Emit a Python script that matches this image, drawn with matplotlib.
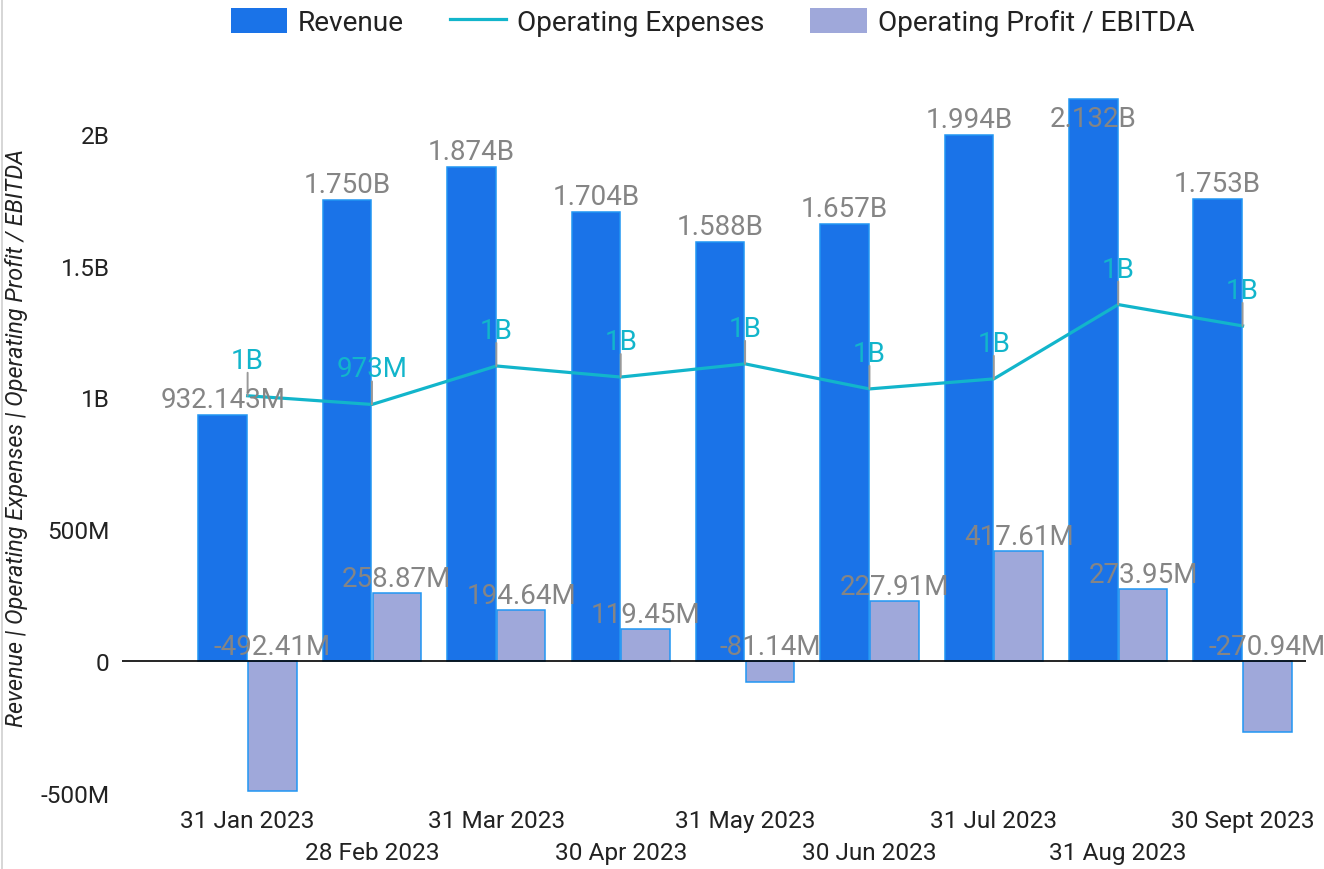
import matplotlib
matplotlib.use("Agg")
import matplotlib.pyplot as plt
from matplotlib.patches import Patch
from matplotlib.lines import Line2D
import numpy as np

plt.rcParams['font.family'] = ['Roboto', 'DejaVu Sans']

# values in millions
months = ['31 Jan 2023', '28 Feb 2023', '31 Mar 2023', '30 Apr 2023', '31 May 2023',
          '30 Jun 2023', '31 Jul 2023', '31 Aug 2023', '30 Sept 2023']
revenue = [932.143, 1750, 1874, 1704, 1588, 1657, 1994, 2132, 1753]
opex = [1006, 973, 1119, 1077, 1127, 1032, 1070, 1352, 1271]
profit = [-492.41, 258.87, 194.64, 119.45, -81.14, 227.91, 417.61, 273.95, -270.94]

ytick_values = [-500, 0, 500, 1000, 1500, 2000]
ytick_labels = ['-500M', '0', '500M', '1B', '1.5B', '2B']

REV_COLOR = '#1a73e8'
PROFIT_COLOR = '#9fa8da'
EDGE_COLOR = '#2196f3'
LINE_COLOR = '#12b5cb'
LABEL_GRAY = '#858585'


def fmt_revenue(v):
    if v >= 1000:
        return f'{v / 1000:.3f}B'
    return f'{v:.3f}M'


def fmt_opex(v):
    if v >= 1000:
        return f'{int(v // 1000)}B'
    return f'{v:.0f}M'


fig = plt.figure(figsize=(13.24, 8.70), dpi=100)
ax = fig.add_axes([122 / 1324, 1 - 800 / 870, (1306 - 122) / 1324, 705 / 870])

x = np.arange(len(months))
w = 0.39
off = 0.2

ax.bar(x - off, revenue, width=w, color=REV_COLOR, edgecolor=EDGE_COLOR, linewidth=1.1, zorder=2)
ax.bar(x + off, profit, width=w, color=PROFIT_COLOR, edgecolor=EDGE_COLOR, linewidth=1.1, zorder=2)
ax.plot(x, opex, color=LINE_COLOR, linewidth=2.3, zorder=3)
ax.axhline(0, color='black', linewidth=1.2, zorder=4)

# data labels
label_cap = 2000  # labels of the tallest bars stay inside the plot
for i in range(len(months)):
    ax.annotate(fmt_revenue(revenue[i]), xy=(x[i] - off, min(revenue[i], label_cap)),
                xytext=(0, 8), textcoords='offset pixels', ha='center', va='baseline',
                fontsize=20, color=LABEL_GRAY, zorder=6)
    ax.annotate(f'{profit[i]:.2f}M', xy=(x[i] + off, max(profit[i], 0)),
                xytext=(0, 7), textcoords='offset pixels', ha='center', va='baseline',
                fontsize=20, color=LABEL_GRAY, zorder=6)
    ax.annotate('', xy=(x[i], opex[i]), xytext=(0, 23), textcoords='offset pixels',
                arrowprops=dict(arrowstyle='-', color='#999999', lw=1.4,
                                shrinkA=0, shrinkB=0), zorder=5)
    ax.annotate(fmt_opex(opex[i]), xy=(x[i], opex[i]),
                xytext=(0, 28), textcoords='offset pixels', ha='center', va='baseline',
                fontsize=20, color=LINE_COLOR, zorder=6)

ax.set_xlim(-1.01, 8.51)
ax.set_ylim(-524, 2151)
ax.set_yticks(ytick_values, ytick_labels)
ax.set_xticks(x, months)
ax.tick_params(axis='both', length=0, labelsize=17.6, colors='#222222')
ax.tick_params(axis='y', pad=9)
# alternate the date labels on two rows
for i, tick in enumerate(ax.xaxis.get_major_ticks()):
    tick.set_pad(7 if i % 2 == 0 else 30)
for s in ax.spines.values():
    s.set_visible(False)

fig.text(17 / 1324, 1 - 438 / 870, 'Revenue | Operating Expenses | Operating Profit / EBITDA',
         rotation=90, ha='center', va='center', fontsize=16.8, style='italic', color='#222222')

handles = [Patch(facecolor=REV_COLOR, edgecolor='none'),
           Line2D([0], [0], color=LINE_COLOR, linewidth=2.3),
           Patch(facecolor=PROFIT_COLOR, edgecolor='none')]
fig.legend(handles, ['Revenue', 'Operating Expenses', 'Operating Profit / EBITDA'],
           loc='center', bbox_to_anchor=(712.5 / 1324, 1 - 23 / 870), ncol=3, frameon=False,
           fontsize=20.2, handlelength=2.0, handleheight=1.0, handletextpad=0.39,
           columnspacing=1.64, labelcolor='#222222', borderpad=0, borderaxespad=0)

fig.add_artist(Line2D([2 / 1324, 2 / 1324], [0, 1], color='#d0d0d0', linewidth=1.2))

fig.savefig('out.png', dpi=100)
